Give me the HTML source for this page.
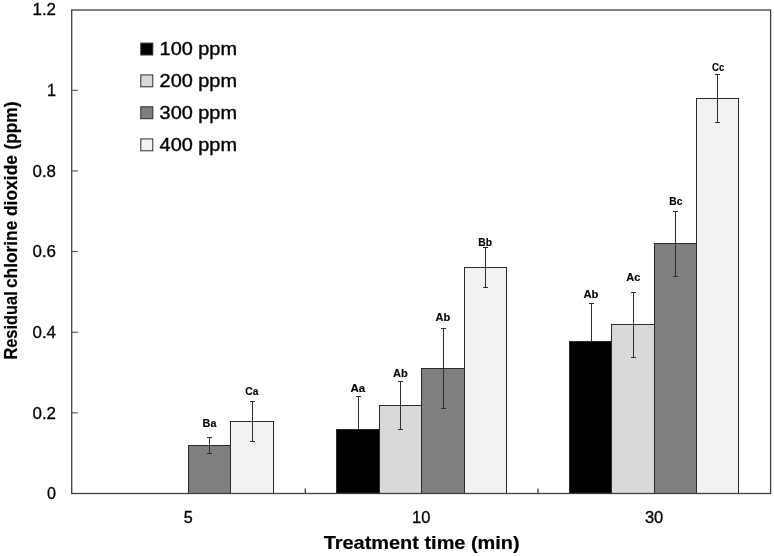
<!DOCTYPE html>
<html><head><meta charset="utf-8"><title>Residual chlorine dioxide</title>
<style>html,body{margin:0;padding:0;background:#fff;}body{width:774px;height:556px;overflow:hidden;font-family:"Liberation Sans",sans-serif;}svg{display:block;will-change:transform;}</style>
</head><body>
<svg width="774" height="556" viewBox="0 0 774 556" font-family="'Liberation Sans', sans-serif">
<defs><filter id="soft" x="0" y="0" width="774" height="556" filterUnits="userSpaceOnUse"><feGaussianBlur stdDeviation="0.25"/></filter></defs>
<rect width="774" height="556" fill="#ffffff"/>
<g filter="url(#soft)">
<rect x="188.50" y="445.50" width="42.00" height="48.00" fill="#7f7f7f" stroke="#2b2b2b" stroke-width="1"/>
<rect x="230.50" y="421.50" width="43.00" height="72.00" fill="#f2f2f2" stroke="#2b2b2b" stroke-width="1"/>
<rect x="336.50" y="429.50" width="43.00" height="64.00" fill="#000000" stroke="#2b2b2b" stroke-width="1"/>
<rect x="379.50" y="405.50" width="42.00" height="88.00" fill="#d9d9d9" stroke="#2b2b2b" stroke-width="1"/>
<rect x="421.50" y="368.50" width="43.00" height="125.00" fill="#7f7f7f" stroke="#2b2b2b" stroke-width="1"/>
<rect x="464.50" y="267.50" width="42.00" height="226.00" fill="#f2f2f2" stroke="#2b2b2b" stroke-width="1"/>
<rect x="569.50" y="341.50" width="42.00" height="152.00" fill="#000000" stroke="#2b2b2b" stroke-width="1"/>
<rect x="611.50" y="324.50" width="43.00" height="169.00" fill="#d9d9d9" stroke="#2b2b2b" stroke-width="1"/>
<rect x="654.50" y="243.50" width="42.00" height="250.00" fill="#7f7f7f" stroke="#2b2b2b" stroke-width="1"/>
<rect x="696.50" y="98.50" width="42.00" height="395.00" fill="#f2f2f2" stroke="#2b2b2b" stroke-width="1"/>
<path d="M209.50 437.50V453.50M207.00 437.50H212.00M207.00 453.50H212.00" stroke="#2e2e2e" stroke-width="1" fill="none"/>
<path d="M252.50 401.50V441.50M250.00 401.50H255.00M250.00 441.50H255.00" stroke="#2e2e2e" stroke-width="1" fill="none"/>
<path d="M358.50 396.50V429.50M356.00 396.50H361.00" stroke="#2e2e2e" stroke-width="1" fill="none"/>
<path d="M400.50 381.50V429.50M398.00 381.50H403.00M398.00 429.50H403.00" stroke="#2e2e2e" stroke-width="1" fill="none"/>
<path d="M443.50 328.50V408.50M441.00 328.50H446.00M441.00 408.50H446.00" stroke="#2e2e2e" stroke-width="1" fill="none"/>
<path d="M485.50 247.50V287.50M483.00 247.50H488.00M483.00 287.50H488.00" stroke="#2e2e2e" stroke-width="1" fill="none"/>
<path d="M591.50 303.50V341.50M589.00 303.50H594.00" stroke="#2e2e2e" stroke-width="1" fill="none"/>
<path d="M633.50 292.50V357.50M631.00 292.50H636.00M631.00 357.50H636.00" stroke="#2e2e2e" stroke-width="1" fill="none"/>
<path d="M675.50 211.50V276.50M673.00 211.50H678.00M673.00 276.50H678.00" stroke="#2e2e2e" stroke-width="1" fill="none"/>
<path d="M717.50 74.50V122.50M715.00 74.50H720.00M715.00 122.50H720.00" stroke="#2e2e2e" stroke-width="1" fill="none"/>
<rect x="71.7" y="10.0" width="698.90" height="483.50" fill="none" stroke="#404040" stroke-width="1.3"/>
<text x="56" y="499.30" font-size="16.3" text-anchor="end" textLength="9.0" lengthAdjust="spacingAndGlyphs" fill="#000" stroke="#000" stroke-width="0.3">0</text>
<path d="M71.7 412.86h6.2" stroke="#404040" stroke-width="1"/>
<text x="56" y="418.66" font-size="16.3" text-anchor="end" textLength="23.5" lengthAdjust="spacingAndGlyphs" fill="#000" stroke="#000" stroke-width="0.3">0.2</text>
<path d="M71.7 332.22h6.2" stroke="#404040" stroke-width="1"/>
<text x="56" y="338.02" font-size="16.3" text-anchor="end" textLength="23.5" lengthAdjust="spacingAndGlyphs" fill="#000" stroke="#000" stroke-width="0.3">0.4</text>
<path d="M71.7 251.58h6.2" stroke="#404040" stroke-width="1"/>
<text x="56" y="257.38" font-size="16.3" text-anchor="end" textLength="23.5" lengthAdjust="spacingAndGlyphs" fill="#000" stroke="#000" stroke-width="0.3">0.6</text>
<path d="M71.7 170.94h6.2" stroke="#404040" stroke-width="1"/>
<text x="56" y="176.74" font-size="16.3" text-anchor="end" textLength="23.5" lengthAdjust="spacingAndGlyphs" fill="#000" stroke="#000" stroke-width="0.3">0.8</text>
<path d="M71.7 90.30h6.2" stroke="#404040" stroke-width="1"/>
<text x="56" y="96.10" font-size="16.3" text-anchor="end" textLength="9.0" lengthAdjust="spacingAndGlyphs" fill="#000" stroke="#000" stroke-width="0.3">1</text>
<text x="56" y="15.46" font-size="16.3" text-anchor="end" textLength="23.5" lengthAdjust="spacingAndGlyphs" fill="#000" stroke="#000" stroke-width="0.3">1.2</text>
<path d="M305.30 493.5v-4.9" stroke="#404040" stroke-width="1.3"/>
<path d="M538.00 493.5v-4.9" stroke="#404040" stroke-width="1.3"/>
<text x="188.18" y="522.8" font-size="16.6" text-anchor="middle" textLength="9.0" lengthAdjust="spacingAndGlyphs" fill="#000" stroke="#000" stroke-width="0.3">5</text>
<text x="421.15" y="522.8" font-size="16.6" text-anchor="middle" textLength="18.4" lengthAdjust="spacingAndGlyphs" fill="#000" stroke="#000" stroke-width="0.3">10</text>
<text x="654.12" y="522.8" font-size="16.6" text-anchor="middle" textLength="18.4" lengthAdjust="spacingAndGlyphs" fill="#000" stroke="#000" stroke-width="0.3">30</text>
<text x="421.7" y="549.3" font-size="17.8" font-weight="bold" text-anchor="middle" textLength="196" lengthAdjust="spacingAndGlyphs" fill="#000" stroke="#000" stroke-width="0.2">Treatment time (min)</text>
<text transform="translate(17.4 359.6) rotate(-90)" font-size="17.8" font-weight="bold" textLength="68.3" lengthAdjust="spacingAndGlyphs" fill="#000" stroke="#000" stroke-width="0.2">Residual</text>
<text transform="translate(17.4 288.0) rotate(-90)" font-size="17.8" font-weight="bold" textLength="67.3" lengthAdjust="spacingAndGlyphs" fill="#000" stroke="#000" stroke-width="0.2">chlorine</text>
<text transform="translate(17.4 216.1) rotate(-90)" font-size="17.8" font-weight="bold" textLength="61.1" lengthAdjust="spacingAndGlyphs" fill="#000" stroke="#000" stroke-width="0.2">dioxide</text>
<text transform="translate(17.4 149.6) rotate(-90)" font-size="17.8" font-weight="bold" textLength="48.0" lengthAdjust="spacingAndGlyphs" fill="#000" stroke="#000" stroke-width="0.2">(ppm)</text>
<rect x="140.8" y="43.10" width="12" height="11.9" fill="#000000" stroke="#2b2b2b" stroke-width="1"/>
<text x="159.6" y="55.00" font-size="18.3" textLength="77.4" lengthAdjust="spacingAndGlyphs" fill="#000" stroke="#000" stroke-width="0.4">100 ppm</text>
<rect x="140.8" y="74.90" width="12" height="11.9" fill="#d9d9d9" stroke="#2b2b2b" stroke-width="1"/>
<text x="159.6" y="86.80" font-size="18.3" textLength="77.4" lengthAdjust="spacingAndGlyphs" fill="#000" stroke="#000" stroke-width="0.4">200 ppm</text>
<rect x="140.8" y="106.80" width="12" height="11.9" fill="#7f7f7f" stroke="#2b2b2b" stroke-width="1"/>
<text x="159.6" y="118.70" font-size="18.3" textLength="77.4" lengthAdjust="spacingAndGlyphs" fill="#000" stroke="#000" stroke-width="0.4">300 ppm</text>
<rect x="140.8" y="138.90" width="12" height="11.9" fill="#f2f2f2" stroke="#2b2b2b" stroke-width="1"/>
<text x="159.6" y="150.80" font-size="18.3" textLength="77.4" lengthAdjust="spacingAndGlyphs" fill="#000" stroke="#000" stroke-width="0.4">400 ppm</text>
<text x="209.5" y="426.8" font-size="11.8" font-weight="bold" text-anchor="middle" textLength="13.8" lengthAdjust="spacingAndGlyphs" fill="#000" stroke="#000" stroke-width="0.15">Ba</text>
<text x="251.8" y="395.1" font-size="11.8" font-weight="bold" text-anchor="middle" textLength="13.1" lengthAdjust="spacingAndGlyphs" fill="#000" stroke="#000" stroke-width="0.15">Ca</text>
<text x="357.8" y="392.0" font-size="11.8" font-weight="bold" text-anchor="middle" textLength="14.8" lengthAdjust="spacingAndGlyphs" fill="#000" stroke="#000" stroke-width="0.15">Aa</text>
<text x="400.3" y="377.1" font-size="11.8" font-weight="bold" text-anchor="middle" textLength="14.8" lengthAdjust="spacingAndGlyphs" fill="#000" stroke="#000" stroke-width="0.15">Ab</text>
<text x="442.8" y="320.8" font-size="11.8" font-weight="bold" text-anchor="middle" textLength="14.8" lengthAdjust="spacingAndGlyphs" fill="#000" stroke="#000" stroke-width="0.15">Ab</text>
<text x="485.1" y="246.1" font-size="11.8" font-weight="bold" text-anchor="middle" textLength="13.8" lengthAdjust="spacingAndGlyphs" fill="#000" stroke="#000" stroke-width="0.15">Bb</text>
<text x="591.0" y="298.4" font-size="11.8" font-weight="bold" text-anchor="middle" textLength="15.0" lengthAdjust="spacingAndGlyphs" fill="#000" stroke="#000" stroke-width="0.15">Ab</text>
<text x="633.3" y="281.0" font-size="11.8" font-weight="bold" text-anchor="middle" textLength="14.1" lengthAdjust="spacingAndGlyphs" fill="#000" stroke="#000" stroke-width="0.15">Ac</text>
<text x="675.9" y="205.2" font-size="11.8" font-weight="bold" text-anchor="middle" textLength="13.1" lengthAdjust="spacingAndGlyphs" fill="#000" stroke="#000" stroke-width="0.15">Bc</text>
<text x="718.1" y="71.0" font-size="11.8" font-weight="bold" text-anchor="middle" textLength="12.4" lengthAdjust="spacingAndGlyphs" fill="#000" stroke="#000" stroke-width="0.15">Cc</text>
</g>
</svg>
</body></html>
